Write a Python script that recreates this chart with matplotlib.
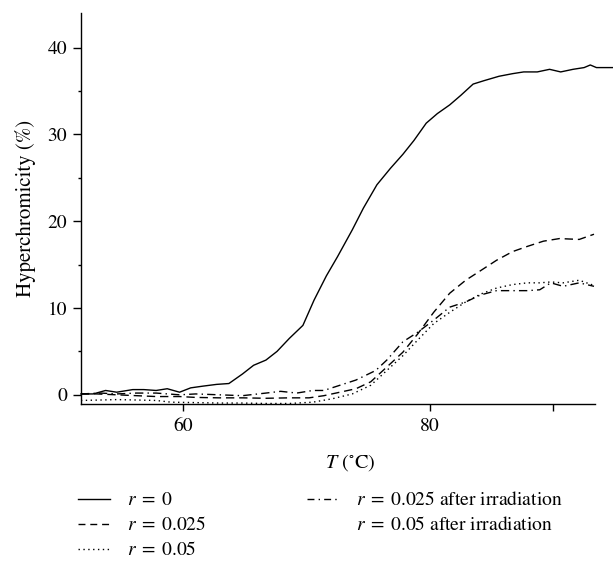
import matplotlib
matplotlib.use('Agg')
import matplotlib.pyplot as plt
from matplotlib.lines import Line2D

plt.rcParams['font.family'] = ['STIXGeneral', 'DejaVu Serif']
plt.rcParams['mathtext.fontset'] = 'stix'

# r = 0
t_r0 = [51.7, 52.7, 53.7, 54.6, 55.9, 56.8, 57.8, 58.7, 59.7, 60.6, 61.6, 62.7, 63.7,
        64.8, 65.7, 66.7, 67.6, 68.6, 69.7, 70.6, 71.6, 72.5, 73.7, 74.6, 75.7, 76.8,
        77.8, 78.7, 79.7, 80.6, 81.6, 82.5, 83.5, 84.4, 85.6, 86.7, 87.6, 88.7, 89.7,
        90.6, 91.6, 92.5, 93.0, 93.5, 94.9]
h_r0 = [0.1, 0.1, 0.5, 0.3, 0.6, 0.6, 0.5, 0.7, 0.3, 0.8, 1.0, 1.2, 1.3,
        2.4, 3.4, 4.0, 5.0, 6.5, 8.0, 10.9, 13.7, 15.9, 19.0, 21.5, 24.2, 26.1,
        27.7, 29.3, 31.3, 32.4, 33.4, 34.5, 35.8, 36.2, 36.7, 37.0, 37.2, 37.2, 37.5,
        37.2, 37.5, 37.7, 38.0, 37.7, 37.7]

# r = 0.025
t_r025 = [51.7, 53.0, 54.6, 56.2, 57.8, 59.7, 61.0, 62.9, 64.8, 66.7, 68.6, 70.2, 71.4,
          72.7, 74.0, 75.2, 76.5, 77.8, 79.0, 80.3, 81.6, 82.9, 84.1, 85.4, 86.7, 87.9,
          89.2, 90.5, 92.1, 93.3]
h_r025 = [0.1, 0.1, 0.0, -0.1, -0.2, -0.2, -0.3, -0.35, -0.35, -0.4, -0.35, -0.35, -0.1,
          0.3, 0.7, 1.5, 3.2, 4.9, 7.0, 9.5, 11.7, 13.2, 14.3, 15.5, 16.5, 17.1,
          17.7, 18.0, 17.9, 18.5]

# r = 0.05
t_r05 = [51.7, 53.3, 54.6, 56.2, 57.8, 59.0, 61.0, 62.9, 64.8, 66.7, 68.6, 70.5, 72.1,
         73.7, 75.2, 76.5, 77.8, 79.0, 80.3, 81.6, 82.9, 84.1, 85.4, 86.7, 87.9, 88.9,
         89.8, 90.8, 92.1, 93.3]
h_r05 = [-0.65, -0.6, -0.55, -0.6, -0.65, -0.85, -0.9, -0.95, -0.95, -1.0, -1.0, -0.85, -0.45,
         0.1, 1.1, 2.8, 4.5, 6.3, 8.2, 9.5, 10.7, 11.6, 12.3, 12.7, 12.9, 12.9,
         13.0, 12.9, 13.2, 12.6]

# r = 0.025 after irradiation
t_r025_irr = [51.7, 53.3, 54.6, 56.2, 57.8, 59.7, 61.0, 62.9, 64.8, 66.7, 67.9, 69.2, 70.5,
              71.4, 72.7, 74.0, 75.6, 76.5, 77.8, 79.0, 80.3, 81.6, 82.9, 84.1, 85.4, 86.7,
              87.9, 88.9, 89.8, 90.8, 92.1, 93.3]
h_r025_irr = [0.1, 0.2, 0.1, 0.2, 0.2, 0.0, 0.1, 0.0, -0.1, 0.2, 0.4, 0.2, 0.5,
              0.5, 1.1, 1.7, 2.8, 4.0, 6.1, 7.2, 8.6, 10.1, 10.7, 11.5, 12.0, 12.0,
              12.0, 12.1, 12.9, 12.5, 12.9, 12.5]

labels = ['$r\\;=\\;0$', '$r\\;=\\;0.025$', '$r\\;=\\;0.05$',
          '$r\\;=\\;0.025$ after irradiation', '$r\\;=\\;0.05$ after irradiation']

fig = plt.figure(figsize=(6.13, 5.61), dpi=100)
ax = fig.add_axes([0.132, 0.280, 0.839, 0.697])

lw = 1.0
ax.plot(t_r0, h_r0, color='black', lw=lw, ls='-', clip_on=False)
ax.plot(t_r025, h_r025, color='black', lw=lw, ls=(0, (6, 3.5)))
ax.plot(t_r05, h_r05, color='black', lw=lw, ls=(0, (1, 2.5)))
ax.plot(t_r025_irr, h_r025_irr, color='black', lw=lw, ls=(0, (6, 3, 1, 3)))

ax.set_xlim(51.7, 93.4)
ax.set_ylim(-1.05, 44)
ax.set_xticks([60, 80, 90])
ax.set_xticklabels(['60', '80', ''])
ax.set_yticks([0, 10, 20, 30, 40])
ax.set_yticks([5, 15, 25, 35], minor=True)
ax.tick_params(axis='x', which='major', labelsize=14, length=5, width=1, pad=5, direction='out')
ax.tick_params(axis='y', which='major', labelsize=14, length=6, width=1, pad=4, direction='out')
ax.tick_params(axis='y', which='minor', length=2.5, width=1, direction='out')
for side in ['top', 'right']:
    ax.spines[side].set_visible(False)
for side in ['left', 'bottom']:
    ax.spines[side].set_linewidth(1.0)

ax.set_xlabel('$T$ ($^{\\circ}$C)', fontsize=14.5)
ax.xaxis.set_label_coords(0.523, -0.122)
ax.set_ylabel('Hyperchromicity (%)', fontsize=15, labelpad=8)

handles = [
    Line2D([], [], color='black', lw=lw, ls='-'),
    Line2D([], [], color='black', lw=lw, ls=(0, (5, 3.5))),
    Line2D([], [], color='black', lw=lw, ls=(0, (1, 2.5))),
    Line2D([], [], color='black', lw=lw, ls=(0, (5, 3, 1, 3))),
    Line2D([], [], color='none', lw=lw),
]
fig.legend(handles, labels, loc='upper left', bbox_to_anchor=(0.128, 0.124),
           ncol=2, frameon=False, fontsize=14, handlelength=1.6, handletextpad=0.9,
           labelspacing=0.36, columnspacing=5.2, borderaxespad=0, borderpad=0)

fig.savefig('out.png', dpi=100)
